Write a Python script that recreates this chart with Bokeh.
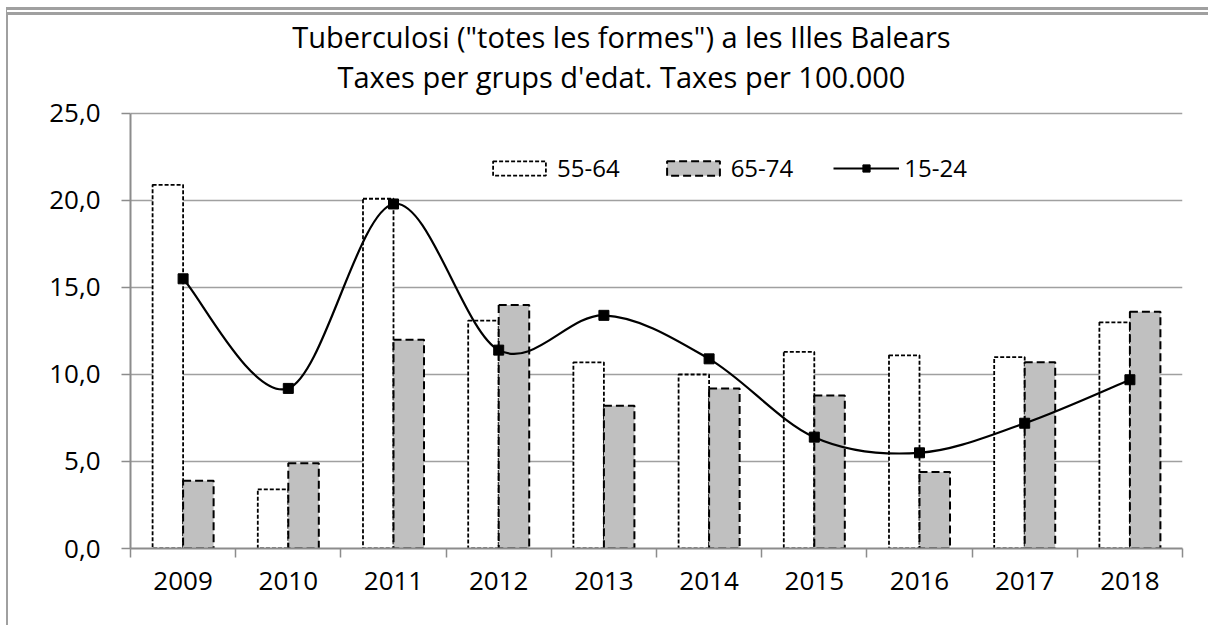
import numpy as np
from bokeh.plotting import figure
from bokeh.models import (ColumnDataSource, FixedTicker, CustomJSTickFormatter, Legend,
                          LegendItem, Label, Range1d)
from bokeh.embed import file_html
from bokeh.resources import INLINE

# ---------------- data ----------------
years = ["2009", "2010", "2011", "2012", "2013", "2014", "2015", "2016", "2017", "2018"]
age_55_64 = [20.9, 3.4, 20.1, 13.1, 10.7, 10.0, 11.3, 11.1, 11.0, 13.0]
age_65_74 = [3.9, 4.9, 12.0, 14.0, 8.2, 9.2, 8.8, 4.4, 10.7, 13.6]
age_15_24 = [15.5, 9.2, 19.8, 11.4, 13.4, 10.9, 6.4, 5.5, 7.2, 9.7]
y_ticks = [0, 5, 10, 15, 20, 25]
series_labels = ["55-64", "65-74", "15-24"]
title_lines = ['Tuberculosi ("totes les formes") a les Illes Balears',
               "Taxes per grups d'edat. Taxes per 100.000"]

FONT = "Open Sans"
GRID = "#A0A0A0"
AXIS = "#8C8C8C"

n = len(years)
centers = np.arange(n) + 0.5
bar_w = 0.29
y_top = 30.632  # room above the 25 gridline for the two title lines

p = figure(width=1202, height=618, x_range=Range1d(0, n), y_range=Range1d(0, y_top),
           output_backend="svg", toolbar_location=None,
           min_border_left=122, min_border_right=28, min_border_top=0, min_border_bottom=85)
p.styles = {"margin-left": "6px", "margin-top": "7px",
            "border-top": "8px double #A0A0A0", "border-left": "2px solid #A0A0A0"}
p.outline_line_color = None
p.background_fill_color = "white"
p.border_fill_color = "white"

src_a = ColumnDataSource(dict(x=centers - bar_w / 2, top=age_55_64))
src_b = ColumnDataSource(dict(x=centers + bar_w / 2, top=age_65_74))
r_a = p.vbar(x="x", top="top", width=bar_w, bottom=0, source=src_a, fill_color="white",
             line_color="black", line_width=1.8, line_dash="4 2")
r_b = p.vbar(x="x", top="top", width=bar_w, bottom=0, source=src_b, fill_color="#C0C0C0",
             line_color="black", line_width=2, line_dash="8 4")

# smoothed line (Catmull-Rom as cubic Bezier segments through the data points)
xs = list(centers)
ys = list(age_15_24)
x0, y0, x1, y1, cx0, cy0, cx1, cy1 = [], [], [], [], [], [], [], []
for i in range(n - 1):
    xm, ym = (xs[i - 1], ys[i - 1]) if i > 0 else (xs[i], ys[i])
    xp, yp = (xs[i + 2], ys[i + 2]) if i + 2 < n else (xs[i + 1], ys[i + 1])
    x0.append(xs[i]); y0.append(ys[i]); x1.append(xs[i + 1]); y1.append(ys[i + 1])
    cx0.append(xs[i] + (xs[i + 1] - xm) / 6); cy0.append(ys[i] + (ys[i + 1] - ym) / 6)
    cx1.append(xs[i + 1] - (xp - xs[i]) / 6); cy1.append(ys[i + 1] - (yp - ys[i]) / 6)
src_c = ColumnDataSource(dict(x0=x0, y0=y0, x1=x1, y1=y1, cx0=cx0, cy0=cy0, cx1=cx1, cy1=cy1))
r_c = p.bezier(x0="x0", y0="y0", x1="x1", y1="y1", cx0="cx0", cy0="cy0", cx1="cx1", cy1="cy1",
               source=src_c, line_color="black", line_width=2.2)
r_s = p.scatter(x=list(centers), y=age_15_24, marker="square", size=10, color="black")

# axes
p.yaxis.ticker = FixedTicker(ticks=y_ticks)
p.yaxis.bounds = (0, 25)
p.yaxis.formatter = CustomJSTickFormatter(code="return tick.toFixed(1).replace('.', ',');")
p.yaxis.major_tick_out = 9
p.yaxis.major_tick_in = 0
p.yaxis.minor_tick_line_color = None
p.yaxis.major_tick_line_color = AXIS
p.yaxis.major_tick_line_width = 1.5
p.yaxis.axis_line_color = AXIS
p.yaxis.axis_line_width = 2
p.yaxis.major_label_text_font = FONT
p.yaxis.major_label_text_font_size = "26px"
p.yaxis.major_label_text_color = "black"
p.yaxis.major_label_standoff = 21

p.xaxis.ticker = FixedTicker(ticks=list(centers), minor_ticks=list(range(n + 1)))
p.xaxis.formatter = CustomJSTickFormatter(args=dict(years=years),
                                          code="return years[Math.floor(tick)];")
p.xaxis.major_tick_line_color = None
p.xaxis.major_tick_out = 0
p.xaxis.major_tick_in = 0
p.xaxis.minor_tick_out = 9
p.xaxis.minor_tick_in = 0
p.xaxis.minor_tick_line_color = AXIS
p.xaxis.minor_tick_line_width = 1.5
p.xaxis.axis_line_color = AXIS
p.xaxis.axis_line_width = 2
p.xaxis.major_label_text_font = FONT
p.xaxis.major_label_text_font_size = "26px"
p.xaxis.major_label_text_color = "black"
p.xaxis.major_label_standoff = 14

p.xgrid.visible = False
p.ygrid.grid_line_color = GRID
p.ygrid.grid_line_width = 1.5

# legend
legend = Legend(items=[LegendItem(label=series_labels[0], renderers=[r_a]),
                       LegendItem(label=series_labels[1], renderers=[r_b]),
                       LegendItem(label=series_labels[2], renderers=[r_c, r_s])],
                orientation="horizontal", location=(356, 364), padding=0, margin=0,
                spacing=40, glyph_width=66, glyph_height=18, label_standoff=5,
                label_text_font=FONT, label_text_font_size="24px", label_text_color="black",
                border_line_color=None, background_fill_alpha=0)
p.add_layout(legend)

# titles
for txt, yy in zip(title_lines, [29.44, 27.14]):
    p.add_layout(Label(x=4.667, y=yy, text=txt, text_align="center", text_baseline="alphabetic",
                       text_font=FONT, text_font_size="29px", text_color="black"))

open("out.html", "w").write(file_html(p, INLINE))
